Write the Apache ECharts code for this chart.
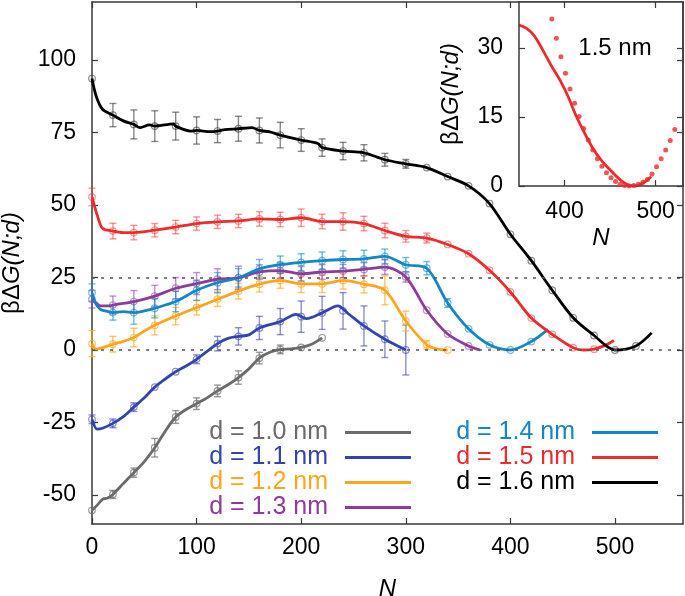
<!DOCTYPE html>
<html><head><meta charset="utf-8">
<script src="https://cdn.jsdelivr.net/npm/echarts@6/dist/echarts.min.js"></script>
<style>html,body{margin:0;padding:0;background:#fff}#c{width:685px;height:596px}</style>
</head><body><div id="c"></div>
<script>
// ---------- data ----------
const seriesNames = ['d = 1.0 nm','d = 1.1 nm','d = 1.2 nm','d = 1.3 nm','d = 1.4 nm','d = 1.5 nm','d = 1.6 nm'];
const xTicks = [0,100,200,300,400,500];
const yTicks = [-50,-25,0,25,50,75,100];
const insetXTicks = [400,500];
const insetYTicks = [0,15,30];
const refLines = [0,25];

const line10 = [[0,-55.3],[5,-53.5],[10,-51.5],[15,-51],[20,-49.8],[30,-46],[40,-42.3],[50,-38.5],[60,-33.7],[70,-28],[80,-23.1],[90,-20.5],[100,-18.5],[110,-16.5],[120,-14.1],[130,-12],[140,-9.5],[150,-6.5],[160,-2.8],[170,-0.8],[180,0.2],[190,0.4],[200,0.9],[210,2],[220,4.2]];
const err10 = [[0,-55.3,1.2],[20,-49.8,1.4],[40,-42.3,1.6],[60,-33.7,3.2],[80,-23.1,2.2],[100,-18.5,2],[120,-14.1,2],[140,-9.5,2.3],[160,-2.8,2],[180,0.2,1.5],[200,0.9,1.3],[220,4.2,1.2]];

const line11 = [[0,-23.9],[5,-27.3],[10,-27],[20,-25.3],[30,-23],[40,-19.7],[50,-16.5],[60,-12.8],[70,-10],[80,-7.5],[90,-5.5],[100,-3.2],[110,-0.5],[120,2.2],[130,4],[140,4.7],[150,5.2],[160,7.6],[180,9.8],[195,12.3],[205,10.8],[220,12.8],[235,15.2],[245,12.5],[260,8.3],[280,3.7],[300,0]];
const err11 = [[0,-23.9,1.5],[20,-25.3,1.5],[40,-19.7,1.5],[60,-12.8,1],[80,-7.5,1],[100,-3.2,1.5],[120,2.2,2.5],[140,4.7,3],[160,7.6,4],[180,9.8,4.5],[200,11.5,5.4],[220,12.8,5.7],[240,13.5,6.3],[260,8.3,6.9],[280,3.7,6.3],[300,0,8.6]];

const line12 = [[0,2.2],[4,0.3],[10,0.8],[20,2],[30,3],[40,4.3],[50,6.5],[60,8.5],[80,11.7],[100,14.6],[120,17.5],[140,20.3],[160,22.7],[180,24],[200,22.8],[220,22.8],[240,24],[260,22.7],[280,20.6],[300,10],[320,1.8],[330,0.3],[340,0]];
const err12 = [[0,2.2,4.5],[20,2,2.7],[40,4.3,3.2],[60,8.5,3.3],[80,11.7,3],[100,14.6,2.5],[120,17.5,2.5],[140,20.3,2.7],[160,22.7,2.7],[180,24,2.7],[200,22.8,3],[220,22.8,3],[240,24,3],[260,22.7,3],[280,20.6,5],[300,10,3.4],[320,1.8,1.5],[340,0,1]];

const line13 = [[0,17.5],[4,16.3],[8,15.2],[17,15.2],[20,15.5],[40,16.7],[60,18.6],[80,21.3],[100,22.9],[120,24.4],[140,24.9],[160,26.9],[180,27.4],[200,26.3],[220,26.9],[240,27.2],[260,27.8],[280,28.6],[300,25.2],[320,13.7],[340,5.5],[360,1.4],[371,0]];
const err13 = [[0,17.5,3],[20,15.5,3.1],[40,16.7,3.8],[60,18.6,3.7],[80,21.3,3.7],[100,22.9,3.8],[120,24.4,3.6],[140,24.9,4],[160,26.9,2.5],[180,27.4,2.7],[200,26.3,2.5],[220,26.9,2.5],[240,27.2,2.3],[260,27.8,2.3],[280,28.6,2.5],[300,25.2,1.8],[320,13.7,1],[340,5.5,0.8],[360,1.4,0.6]];

const line14 = [[0,19.8],[3,16.3],[8,14],[14,13.4],[20,12.9],[30,13.2],[40,12.9],[50,13.5],[60,14.4],[80,16.7],[100,20.6],[120,23.2],[140,24.9],[160,28],[180,29.4],[200,30.2],[220,30.8],[240,31.2],[260,31.4],[280,32.3],[300,29.4],[320,28.2],[340,16.2],[360,7.3],[380,1.8],[400,0],[420,2.9],[436,7.1]];
const err14 = [[0,19.8,3],[20,12.9,2.6],[40,12.9,4],[60,14.4,3.3],[80,16.7,3.5],[100,20.6,3.5],[120,23.2,3.5],[140,24.9,3.2],[160,28,3.2],[180,29.4,3],[200,30.2,3],[220,30.8,3],[240,31.2,3],[260,31.4,3],[280,32.3,2.5],[300,29.4,2.5],[320,28.2,2.3],[340,16.2,1.5],[360,7.3,0.8],[380,1.8,0.5],[400,0,0.5],[420,2.9,0.5]];

const line15 = [[0,52.8],[5,46.5],[10,42],[20,41],[30,40.5],[40,40.5],[60,41.3],[80,42.4],[100,43.6],[120,44.2],[140,44.5],[160,45.2],[180,45],[200,45.6],[220,44.3],[240,44.3],[260,43.6],[280,41.2],[300,39.2],[320,38.6],[340,36.4],[360,33.2],[380,27.5],[400,20],[420,11],[440,5.4],[460,0.8],[470,0],[480,0.3],[490,1.5],[499,3.3]];
const err15 = [[0,52.8,3],[20,41,2.7],[40,40.5,2.5],[60,41.3,2.3],[80,42.4,2.3],[100,43.6,2.3],[120,44.2,2.3],[140,44.5,2.3],[160,45.2,2.5],[180,45,2.5],[200,45.6,3],[220,44.3,2.5],[240,44.3,3],[260,43.6,2.5],[280,41.2,2.5],[300,39.2,2],[320,38.6,1.7],[340,36.4,1.2],[360,33.2,0.8],[380,27.5,0.6],[400,20,0.5],[420,11,0.5],[440,5.4,0.5],[460,0.8,0.5],[480,0.3,0.5]];

const line16 = [[0,93.6],[4,87.5],[10,83],[20,81],[30,79],[40,77.8],[46,76.7],[55,77.6],[60,77.2],[78,78],[80,77.2],[94,75.5],[100,75.7],[113,75.3],[120,75.5],[127,76],[140,76.3],[153,76.7],[160,75.7],[170,75.2],[180,74.1],[200,72.4],[216,71.2],[220,69.8],[240,68.6],[260,68],[280,65.6],[300,64.2],[320,62.9],[340,59.8],[360,56.6],[380,50.5],[400,39.9],[420,30.8],[440,20.6],[460,11.1],[480,5],[500,0],[520,1.4],[535,5.9]];
const err16 = [[0,93.6,0.8],[20,81,4],[40,77.8,5],[60,77.2,5.3],[80,77.2,4.8],[100,75.7,4.7],[120,75.5,4],[140,76.3,4.3],[160,75.7,4.3],[180,74.1,4.4],[200,72.4,3.9],[220,69.8,3],[240,68.6,3],[260,68,2.8],[280,65.6,2.2],[300,64.2,1.5],[320,62.9,1],[340,59.8,1],[360,56.6,1],[380,50.5,1],[400,39.9,0.8],[420,30.8,0.6],[440,20.6,0.5],[460,11.1,0.5],[480,5,0.5],[500,0,0.5],[520,1.4,0.5]];

// inset (d = 1.5 nm)
const insetLine = [[350,35],[358,34.3],[367,32.6],[376,29.6],[385,26.3],[395,23],[404,19.4],[413,15.1],[422,11.5],[431,8.2],[440,5.7],[450,3.5],[459,1.7],[468,0.4],[477,0],[486,0.6],[495,2]];
const insetDots = [[386,36.3],[391,32.1],[396,28.1],[401,24.5],[406,21.1],[411,18],[416,15.1],[421,12.5],[426,10],[431,7.8],[436,5.9],[441,4.3],[446,2.9],[451,1.8],[456,1],[461,0.4],[466,0.1],[471,0],[476,0.1],[481,0.4],[486,0.8],[491,1.4],[496,2.6],[501,4.2],[506,5.9],[511,7.8],[516,9.9],[521,12.3]];

// ---------- styling ----------
const FONT = '"Liberation Sans", Arial, Helvetica, sans-serif';
const AX = '#3a3a3a';
const colors = ['#6b6b6b','#3444ae','#fda520','#8d3c9c','#1386c5','#ef2a2a','#000000'];
const errColors = ['rgba(110,110,110,0.7)','rgba(60,70,180,0.6)','rgba(253,170,40,0.7)','rgba(150,70,165,0.6)','rgba(20,140,200,0.6)','rgba(240,60,60,0.55)','rgba(40,40,40,0.55)'];
const lines = [line10,line11,line12,line13,line14,line15,line16];
const errs = [err10,err11,err12,err13,err14,err15,err16];

function errRender(color){
  return function(params, api){
    const x = api.value(0), y = api.value(1), e = api.value(2);
    const p = api.coord([x,y]);
    const t = api.coord([x,y+e]);
    const b = api.coord([x,y-e]);
    const ch = [];
    if (t[1] < p[1]-4) {
      ch.push({type:'line', shape:{x1:p[0],y1:t[1],x2:p[0],y2:b[1]}, style:{stroke:color,lineWidth:1.4}});
      ch.push({type:'line', shape:{x1:p[0]-3.5,y1:t[1],x2:p[0]+3.5,y2:t[1]}, style:{stroke:color,lineWidth:1.4}});
      ch.push({type:'line', shape:{x1:p[0]-3.5,y1:b[1],x2:p[0]+3.5,y2:b[1]}, style:{stroke:color,lineWidth:1.4}});
    }
    ch.push({type:'circle', shape:{cx:p[0],cy:p[1],r:3.3}, style:{fill:'none',stroke:color,lineWidth:1.2}});
    return {type:'group', children:ch};
  };
}

function axisBase(extra){
  return Object.assign({
    type:'value',
    axisLine:{show:true,onZero:false,lineStyle:{color:AX,width:1.5}},
    axisTick:{show:true,inside:true,length:6,lineStyle:{color:AX,width:1.2}},
    splitLine:{show:false},
    axisLabel:{show:false}
  }, extra);
}
const labelStyle = {fontSize:23,color:'#000',fontFamily:FONT};

const series = [];
lines.forEach((d,i)=>{
  series.push({
    name: 'err'+i, type:'custom', xAxisIndex:0, yAxisIndex:0,
    renderItem: errRender(errColors[i]), data: errs[i], encode:{x:0,y:1}, z:2, silent:true
  });
});
lines.forEach((d,i)=>{
  const s = {
    name: seriesNames[i], type:'line', xAxisIndex:0, yAxisIndex:0, data:d,
    showSymbol:false, smooth:0.3, z:3,
    lineStyle:{color:colors[i],width:2.8}, itemStyle:{color:colors[i]}
  };
  if (i===0) {
    s.markLine = {silent:true, symbol:['none','none'], label:{show:false},
      lineStyle:{color:'#555',type:[3,6],width:1.5},
      data: refLines.map(v=>({yAxis:v}))};
  }
  series.push(s);
});
series.push({name:'inset line', type:'line', xAxisIndex:2, yAxisIndex:2, data:insetLine,
  showSymbol:false, smooth:0.3, lineStyle:{color:'#ef2a2a',width:2.8}, itemStyle:{color:'#ef2a2a'}, z:5});
series.push({name:'inset dots', type:'scatter', xAxisIndex:2, yAxisIndex:2, data:insetDots,
  symbolSize:5, itemStyle:{color:'#ef2a2a'}, z:6});

function legendData(idx){
  return idx.map(i=>({name:seriesNames[i], textStyle:{color:colors[i]}}));
}
const legendCommon = {orient:'vertical', align:'right', top:420, itemWidth:66, itemHeight:3, itemGap:0,
  padding:0, icon:'rect', selectedMode:false,
  textStyle:{fontSize:25,fontFamily:FONT,padding:[0,12,0,0]}};

const yName = '{b|βΔ}{i|G(N;d)}';
const yNameStyle = {fontSize:24, color:'#000', fontFamily:FONT,
  rich:{b:{fontSize:24,fontFamily:FONT,color:'#000'}, i:{fontSize:24,fontFamily:FONT,fontStyle:'italic',color:'#000'}}};

const option = {
  animation:false,
  backgroundColor:'#fff',
  grid:[
    {left:92, right:2, top:2, bottom:72, outerBoundsMode:'none', containLabel:false},
    {left:519, right:2, top:2, bottom:410, outerBoundsMode:'none', containLabel:false, show:true, backgroundColor:'#fff', borderWidth:0, z:4}
  ],
  legend:[
    Object.assign({}, legendCommon, {right:274, data:legendData([0,1,2,3])}),
    Object.assign({}, legendCommon, {right:27, data:legendData([4,5,6])})
  ],
  xAxis:[
    axisBase({gridIndex:0, min:0, max:565, position:'bottom',
      axisTick:{show:true,inside:true,length:6,customValues:xTicks,lineStyle:{color:AX,width:1.2}},
      axisLabel:Object.assign({show:true,margin:12,customValues:xTicks},labelStyle),
      name:'N', nameLocation:'middle', nameGap:53,
      nameTextStyle:{fontSize:24,fontStyle:'italic',color:'#000',fontFamily:FONT}}),
    axisBase({gridIndex:0, min:0, max:565, position:'top',
      axisTick:{show:true,inside:true,length:6,customValues:xTicks,lineStyle:{color:AX,width:1.2}}}),
    axisBase({gridIndex:1, min:350, max:530, position:'bottom', z:6,
      axisTick:{show:true,inside:true,length:6,customValues:insetXTicks,lineStyle:{color:AX,width:1.2}},
      axisLabel:Object.assign({show:true,margin:14,customValues:insetXTicks},labelStyle),
      name:'N', nameLocation:'middle', nameGap:40,
      nameTextStyle:{fontSize:24,fontStyle:'italic',color:'#000',fontFamily:FONT}}),
    axisBase({gridIndex:1, min:350, max:530, position:'top', z:6,
      axisTick:{show:true,inside:true,length:6,customValues:insetXTicks,lineStyle:{color:AX,width:1.2}}})
  ],
  yAxis:[
    axisBase({gridIndex:0, min:-60, max:120, position:'left',
      axisTick:{show:true,inside:true,length:6,customValues:yTicks,lineStyle:{color:AX,width:1.2}},
      axisLabel:Object.assign({show:true,margin:16,customValues:yTicks},labelStyle),
      name:yName, nameLocation:'middle', nameGap:68, nameTextStyle:yNameStyle}),
    axisBase({gridIndex:0, min:-60, max:120, position:'right', z:7,
      axisTick:{show:true,inside:true,length:6,customValues:yTicks,lineStyle:{color:AX,width:1.2}}}),
    axisBase({gridIndex:1, min:0, max:40, position:'left', z:6,
      axisTick:{show:true,inside:true,length:6,customValues:insetYTicks,lineStyle:{color:AX,width:1.2}},
      axisLabel:Object.assign({show:true,margin:16,customValues:insetYTicks},labelStyle),
      name:yName, nameLocation:'middle', nameGap:56, nameTextStyle:yNameStyle}),
    axisBase({gridIndex:1, min:0, max:40, position:'right', z:6,
      axisTick:{show:true,inside:true,length:6,customValues:insetYTicks,lineStyle:{color:AX,width:1.2}}})
  ],
  graphic:[
    {type:'text', x:615, y:48, z:10, style:{text:'1.5 nm', fontSize:24, fontFamily:FONT, fill:'#000', align:'center', verticalAlign:'middle'}}
  ],
  series: series
};
const chart = echarts.init(document.getElementById('c'), null, {renderer:'canvas'});
chart.setOption(option);
</script></body></html>
